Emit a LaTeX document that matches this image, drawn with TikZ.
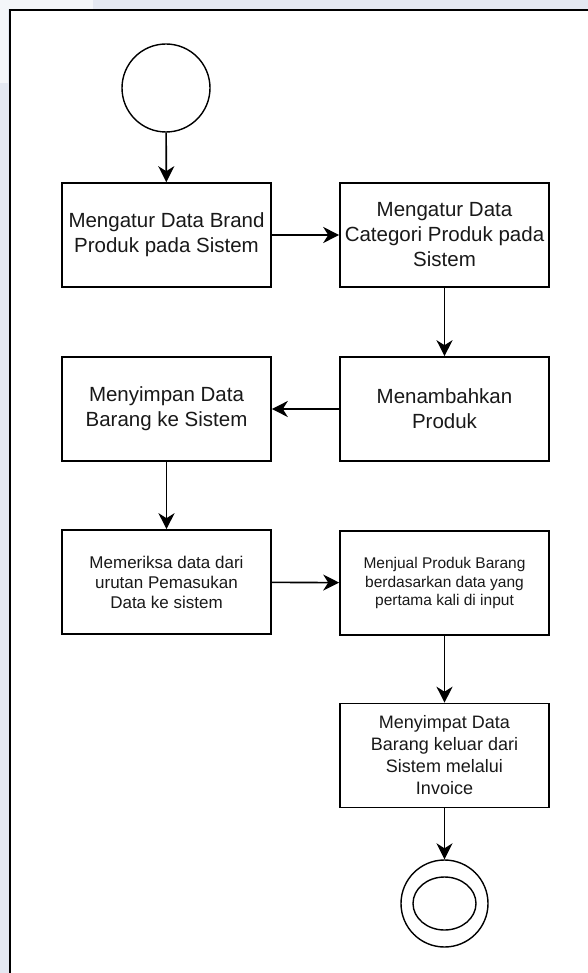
\documentclass[tikz,border=0pt]{standalone}
\usepackage{fontspec}
\setmainfont{Liberation Sans}
\usetikzlibrary{arrows.meta}
\definecolor{bgblue}{RGB}{228,232,241}
\definecolor{txt}{RGB}{25,25,25}
\begin{document}
\begin{tikzpicture}[x=1pt,y=-1pt,
  box/.style={draw=black,line width=1.6pt,fill=white,minimum width=209pt,minimum height=104pt,inner sep=0pt,align=center,text=txt},
  big/.style={font=\fontsize{20.5}{25}\selectfont},
  mid/.style={font=\fontsize{18}{22}\selectfont},
  small/.style={font=\fontsize{17}{20}\selectfont},
  tiny/.style={font=\fontsize{15.5}{18.5}\selectfont},
  conn/.style={line width=1.6pt,-{Stealth[length=16pt,width=16pt,inset=5pt]}},
  circ/.style={draw=black,line width=1.4pt,circle,inner sep=0pt,fill=white}]
\useasboundingbox (0,0) rectangle (588,973);
\fill[bgblue] (0,0) rectangle (588,973);
\fill[white!60!bgblue] (0,0) rectangle (93,9);
\fill[white!60!bgblue] (0,0) rectangle (8,83);
\fill[white] (10,10) rectangle (588,973);
\draw[line width=2pt] (10,973) -- (10,10) -- (588,10);
\node[circ,minimum size=88pt] (start) at (166,88) {};
\node[box,big] (b1) at (166.5,235) {Mengatur Data Brand\\Produk pada Sistem};
\node[box,big] (b2) at (444.5,235) {Mengatur Data\\Categori Produk pada\\Sistem};
\node[box,big] (b3) at (444.5,409) {Menambahkan\\Produk};
\node[box,big] (b4) at (166.5,409) {Menyimpan Data\\Barang ke Sistem};
\node[box,small] (b5) at (166.5,582) {Memeriksa data dari\\urutan Pemasukan\\Data ke sistem};
\node[box,tiny] (b6) at (444.5,583) {Menjual Produk Barang\\berdasarkan data yang\\pertama kali di input};
\node[box,mid] (b7) at (444.5,755.5) {Menyimpat Data\\Barang keluar dari\\Sistem melalui\\Invoice};
\node[circ,minimum size=87pt] (end) at (444.5,903.5) {};
\draw[line width=1.4pt] (end.center) ellipse [x radius=31.5pt,y radius=26.5pt];
\draw[conn] (start) -- (b1);
\draw[conn] (b1) -- (b2);
\draw[conn] (b2) -- (b3);
\draw[conn] (b3) -- (b4);
\draw[conn] (b4) -- (b5);
\draw[conn] (b5) -- (b6);
\draw[conn] (b6) -- (b7);
\draw[conn] (b7) -- (end);
\end{tikzpicture}
\end{document}
